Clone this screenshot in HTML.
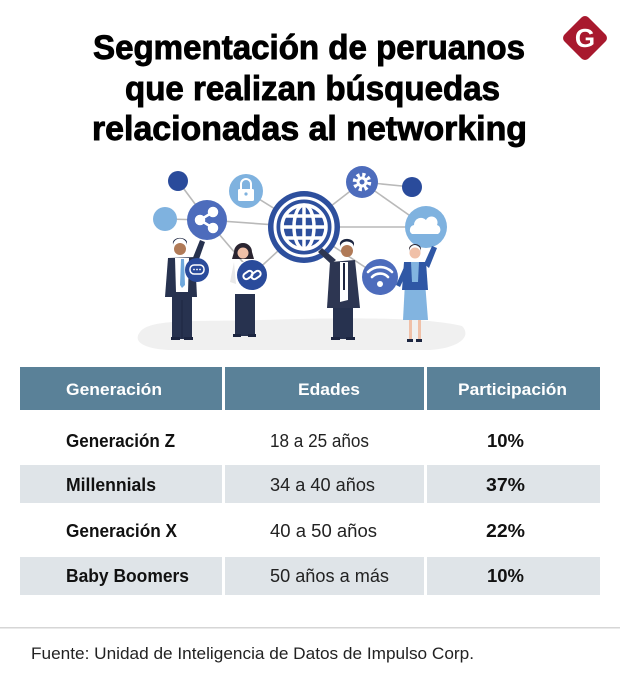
<!DOCTYPE html>
<html><head><meta charset="utf-8"><style>
html,body{margin:0;padding:0;background:#fff;}
svg{display:block;}
</style></head><body>
<svg width="620" height="683" viewBox="0 0 620 683" xmlns="http://www.w3.org/2000/svg">
<rect width="620" height="683" fill="#fff"/>
<!-- Title -->
<g font-family="Liberation Sans, sans-serif" font-weight="700" font-size="34" fill="#000" stroke="#000" stroke-width="0.9">
<text x="93" y="59" textLength="432" lengthAdjust="spacingAndGlyphs">Segmentación de peruanos</text>
<text x="125" y="100" textLength="375" lengthAdjust="spacingAndGlyphs">que realizan búsquedas</text>
<text x="92" y="140" textLength="435" lengthAdjust="spacingAndGlyphs">relacionadas al networking</text>
</g>
<!-- Logo -->
<g>
<rect x="568" y="21" width="34" height="34" rx="5" fill="#a8192e" transform="rotate(45 585 38)"/>
<text x="585" y="47" text-anchor="middle" font-family="Liberation Sans, sans-serif" font-weight="700" font-size="26" fill="#fff">G</text>
</g>
<!-- Illustration -->
<path d="M140 332 C150 318 200 322 260 320 C330 318 420 316 462 326 C472 336 460 348 430 350 L170 350 C145 349 132 342 140 332Z" fill="#f0f0f0"/>
<g stroke="#b9b9b9" stroke-width="1.6">
<line x1="178" y1="181" x2="207" y2="220"/>
<line x1="165" y1="219" x2="207" y2="220"/>
<line x1="207" y1="220" x2="304" y2="227"/>
<line x1="207" y1="220" x2="253" y2="274"/>
<line x1="246" y1="191" x2="304" y2="227"/>
<line x1="253" y1="274" x2="304" y2="227"/>
<line x1="304" y1="227" x2="362" y2="182"/>
<line x1="362" y1="182" x2="412" y2="187"/>
<line x1="362" y1="182" x2="426" y2="227"/>
<line x1="304" y1="227" x2="426" y2="227"/>
<line x1="304" y1="227" x2="380" y2="277"/>
</g>
<circle cx="178" cy="181" r="10" fill="#2a4b9b"/>
<circle cx="165" cy="219" r="12" fill="#7fb2df"/>
<circle cx="412" cy="187" r="10" fill="#2a4b9b"/>
<!-- share -->
<circle cx="207" cy="220" r="20" fill="#4d6cbc"/>
<g fill="#fff" stroke="#fff" stroke-width="2.5">
<line x1="200" y1="220" x2="213" y2="212"/><line x1="200" y1="220" x2="213" y2="228"/>
<circle cx="200" cy="220" r="4"/><circle cx="213" cy="212" r="4"/><circle cx="213" cy="228" r="4"/>
</g>
<!-- lock -->
<circle cx="246" cy="191" r="17" fill="#7fb2df"/>
<path d="M241 189 v-5 a5 5 0 0 1 10 0 v5" fill="none" stroke="#fff" stroke-width="2"/>
<rect x="238" y="189" width="16" height="12" rx="1.5" fill="#fff"/>
<circle cx="246" cy="194" r="1.6" fill="#7fb2df"/>
<!-- globe -->
<circle cx="304" cy="227" r="36" fill="#2d4f9d"/>
<g fill="none" stroke="#fff" stroke-width="3.5">
<circle cx="304" cy="227" r="29" stroke-width="3"/>
<circle cx="304" cy="227" r="22"/>
<ellipse cx="304" cy="227" rx="10" ry="22"/>
<line x1="304" y1="205" x2="304" y2="249"/>
<line x1="282" y1="227" x2="326" y2="227"/>
<line x1="285" y1="216" x2="323" y2="216"/>
<line x1="285" y1="238" x2="323" y2="238"/>
</g>
<!-- gear -->
<circle cx="362" cy="182" r="16" fill="#4d6cbc"/>
<circle cx="362" cy="182" r="7" fill="none" stroke="#fff" stroke-width="4.5" stroke-dasharray="3 2.5"/>
<circle cx="362" cy="182" r="5.5" fill="#fff"/>
<circle cx="362" cy="182" r="2.5" fill="#4d6cbc"/>
<!-- cloud -->
<circle cx="426" cy="227" r="21" fill="#7fb2df"/>
<path d="M412 234 a5 5 0 0 1 2 -9 a7 7 0 0 1 12 -5 a6 6 0 0 1 11 5 a5 5 0 0 1 1 9 z" fill="#fff"/>
<!-- wifi -->
<circle cx="380" cy="277" r="18" fill="#4d6cbc"/>
<g fill="none" stroke="#fff" stroke-width="2.6" stroke-linecap="round">
<path d="M368 272 a17 17 0 0 1 24 0"/><path d="M372 277 a11 11 0 0 1 16 0"/>
</g>
<circle cx="380" cy="284" r="3" fill="#fff"/>
<!-- Person 1 -->
<g>
<rect x="172" y="294" width="20" height="45" fill="#27324f"/>
<line x1="182" y1="300" x2="182" y2="339" stroke="#1c2540" stroke-width="1"/>
<rect x="171" y="337" width="9" height="3" fill="#1c2540"/><rect x="184" y="337" width="9" height="3" fill="#1c2540"/>
<path d="M168 258 L195 257 L197 297 L165 297 Z" fill="#27324f"/>
<path d="M175 258 L189 258 L188 292 L176 292 Z" fill="#fff"/>
<path d="M181 259 L184 259 L185 285 L182 288 L180 285 Z" fill="#6fa8dc"/>
<path d="M192 260 L200 240 L205 242 L198 262 Z" fill="#27324f"/>
<circle cx="180" cy="249" r="6" fill="#b07a57"/>
<path d="M173 246 a7 7 0 0 1 14 -1 l0 -3 a7 5 0 0 0 -14 2z" fill="#1c2540"/>
<circle cx="197" cy="270" r="12" fill="#2a4b9b"/>
<rect x="190" y="265" width="14" height="9" rx="4" fill="none" stroke="#fff" stroke-width="1.5"/>
<g fill="#fff"><circle cx="194" cy="269.5" r="0.9"/><circle cx="197" cy="269.5" r="0.9"/><circle cx="200" cy="269.5" r="0.9"/></g>
</g>
<!-- Person 2 -->
<g>
<rect x="235" y="292" width="20" height="44" fill="#27324f"/>
<rect x="233" y="334" width="8" height="3" fill="#1c2540"/><rect x="248" y="334" width="8" height="3" fill="#1c2540"/>
<path d="M234 262 L254 262 L257 294 L233 294 Z" fill="#fff"/>
<path d="M234 262 L230 282 L236 284 Z" fill="#e8e8e8"/>
<path d="M234 252 a9 9 0 0 1 18 0 l2 7 l-22 0 z" fill="#2a2430"/>
<circle cx="243" cy="253" r="5.5" fill="#f0c0a8"/>
<circle cx="252" cy="275" r="15" fill="#2a4b9b"/>
<g fill="none" stroke="#fff" stroke-width="2">
<rect x="243" y="272" width="10" height="6" rx="3" transform="rotate(-35 248 275)"/>
<rect x="251" y="272" width="10" height="6" rx="3" transform="rotate(-35 256 275)"/>
</g>
</g>
<!-- Person 3 -->
<g>
<rect x="333" y="305" width="20" height="34" fill="#27324f"/>
<rect x="331" y="337" width="9" height="3" fill="#1c2540"/><rect x="346" y="337" width="9" height="3" fill="#1c2540"/>
<path d="M330 262 L355 260 L360 308 L327 308 Z" fill="#2d3652"/>
<path d="M340 262 L348 262 L348 300 L340 302 Z" fill="#fff"/>
<line x1="344" y1="263" x2="344" y2="290" stroke="#1c2540" stroke-width="2"/>
<path d="M331 264 L318 252 L322 248 L336 260 Z" fill="#2d3652"/>
<circle cx="347" cy="251" r="6" fill="#b07a57"/>
<path d="M340 248 a7 6 0 0 1 14 -1 l0 -4 a7 5 0 0 0 -14 2z" fill="#1c2540"/>
</g>
<!-- Person 4 -->
<g>
<rect x="409" y="318" width="3" height="22" fill="#f0c0a8"/><rect x="418" y="318" width="3" height="22" fill="#f0c0a8"/>
<rect x="407" y="339" width="6" height="3" fill="#1c2540"/><rect x="416" y="339" width="6" height="3" fill="#1c2540"/>
<path d="M405 282 L425 282 L428 320 L403 320 Z" fill="#82b4e0"/>
<path d="M404 262 L426 262 L428 290 L402 290 Z" fill="#2f57a5"/>
<path d="M411 262 L419 262 L418 282 L412 282 Z" fill="#82b4e0"/>
<path d="M424 264 L432 246 L437 248 L429 268 Z" fill="#2f57a5"/>
<path d="M405 265 L396 285 L400 287 L408 270 Z" fill="#2f57a5"/>
<circle cx="415" cy="253" r="5.5" fill="#f0c0a8"/>
<path d="M409 252 a6 7 0 0 1 12 0 l0 -3 a6 5 0 0 0 -12 0z" fill="#2a2430"/>
</g>
<!-- Table -->
<rect x="20" y="367" width="202" height="43" fill="#5a8198"/>
<rect x="225" y="367" width="199" height="43" fill="#5a8198"/>
<rect x="427" y="367" width="173" height="43" fill="#5a8198"/>
<rect x="20" y="465" width="202" height="38" fill="#dfe4e8"/>
<rect x="225" y="465" width="199" height="38" fill="#dfe4e8"/>
<rect x="427" y="465" width="173" height="38" fill="#dfe4e8"/>
<rect x="20" y="557" width="202" height="38" fill="#dfe4e8"/>
<rect x="225" y="557" width="199" height="38" fill="#dfe4e8"/>
<rect x="427" y="557" width="173" height="38" fill="#dfe4e8"/>
<g font-family="Liberation Sans, sans-serif" font-weight="700" font-size="17" fill="#fff">
<text x="66" y="395" textLength="96" lengthAdjust="spacingAndGlyphs">Generación</text>
<text x="298" y="395" textLength="62" lengthAdjust="spacingAndGlyphs">Edades</text>
<text x="458" y="395" textLength="109" lengthAdjust="spacingAndGlyphs">Participación</text>
</g>
<g font-family="Liberation Sans, sans-serif" font-weight="700" font-size="18" fill="#111">
<text x="66" y="447" textLength="109" lengthAdjust="spacingAndGlyphs">Generación Z</text>
<text x="66" y="491" textLength="90" lengthAdjust="spacingAndGlyphs">Millennials</text>
<text x="66" y="537" textLength="111" lengthAdjust="spacingAndGlyphs">Generación X</text>
<text x="66" y="582" textLength="123" lengthAdjust="spacingAndGlyphs">Baby Boomers</text>
<text x="487" y="447" textLength="37" lengthAdjust="spacingAndGlyphs">10%</text>
<text x="486" y="491" textLength="39" lengthAdjust="spacingAndGlyphs">37%</text>
<text x="486" y="537" textLength="39" lengthAdjust="spacingAndGlyphs">22%</text>
<text x="487" y="582" textLength="37" lengthAdjust="spacingAndGlyphs">10%</text>
</g>
<g font-family="Liberation Sans, sans-serif" font-size="18" fill="#222">
<text x="270" y="447" textLength="99" lengthAdjust="spacingAndGlyphs">18 a 25 años</text>
<text x="270" y="491" textLength="105" lengthAdjust="spacingAndGlyphs">34 a 40 años</text>
<text x="270" y="537" textLength="107" lengthAdjust="spacingAndGlyphs">40 a 50 años</text>
<text x="270" y="582" textLength="119" lengthAdjust="spacingAndGlyphs">50 años a más</text>
</g>
<!-- divider -->
<rect x="0" y="627" width="620" height="1.5" fill="#d6d6d6"/>
<text x="31" y="659" font-family="Liberation Sans, sans-serif" font-size="17" fill="#222" textLength="443" lengthAdjust="spacingAndGlyphs">Fuente: Unidad de Inteligencia de Datos de Impulso Corp.</text>
</svg>
</body></html>
